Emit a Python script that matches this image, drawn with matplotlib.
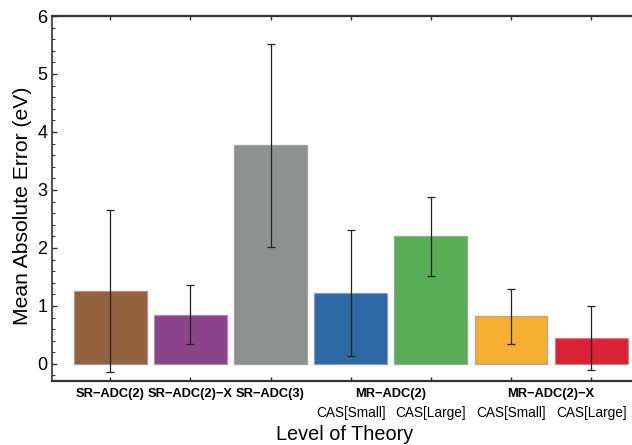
import numpy as np
import matplotlib.pyplot as plt
from matplotlib.ticker import MultipleLocator

# values
methods = ["SR−ADC(2)", "SR−ADC(2)−X", "SR−ADC(3)",
           "MR−ADC(2)", "MR−ADC(2)", "MR−ADC(2)−X", "MR−ADC(2)−X"]
cas_labels = ["", "", "", "CAS[Small]", "CAS[Large]", "CAS[Small]", "CAS[Large]"]
mae = [1.26, 0.845, 3.77, 1.22, 2.20, 0.82, 0.45]
err = [1.40, 0.51, 1.75, 1.09, 0.68, 0.47, 0.55]
colors = ["#93613c", "#8b4489", "#8e918f", "#2c69a5", "#58ad55", "#f6ae33", "#dc2236"]

plt.rcParams['font.family'] = ['Liberation Sans', 'DejaVu Sans']

fig = plt.figure(figsize=(6.32, 4.45), dpi=100)
ax = fig.add_axes([0.0818, 0.1445, 0.9182, 0.8195])

x = np.arange(len(mae))
ax.bar(x, mae, width=0.91, color=colors, edgecolor=(0.55, 0.55, 0.55, 0.6),
       linewidth=1.0)
ax.errorbar(x, mae, yerr=err, fmt='none', ecolor='#222222', elinewidth=0.9,
            capsize=3, capthick=0.9)

ax.set_xlim(-0.73, 6.51)
ax.set_ylim(-0.29, 6)
ax.yaxis.set_major_locator(MultipleLocator(1))
ax.yaxis.set_minor_locator(MultipleLocator(0.2))
ax.set_xticks(x)
ax.set_xticklabels([])

ax.spines['right'].set_visible(False)
for s in ['top', 'bottom']:
    ax.spines[s].set_linewidth(1.6)
    ax.spines[s].set_color('#333333')
ax.spines['left'].set_linewidth(1.2)
ax.spines['left'].set_color('#333333')

ax.tick_params(axis='y', which='major', direction='in', length=3.5, width=1,
               labelsize=13, pad=3, colors='#333333', labelcolor='black')
ax.tick_params(axis='y', which='minor', direction='in', length=2, width=0.8,
               colors='#333333')
ax.tick_params(axis='x', which='major', direction='in', length=3, width=1,
               top=True, colors='#333333')
ax.tick_params(axis='x', which='minor', bottom=False, top=False)

# first row: method names
trans = ('data', 'axes fraction')
row1 = [(x[0], methods[0]), (x[1], methods[1]), (x[2], methods[2]),
        (3.5, methods[3]), (5.5, methods[5])]
for xpos, name in row1:
    ax.annotate(name, xy=(xpos, 0), xycoords=trans, xytext=(0, -9.5),
                textcoords='offset points', ha='center', va='center',
                fontsize=9.3, fontweight='bold')

# second row: active space labels
for i in range(3, 7):
    ax.annotate(cas_labels[i], xy=(x[i], 0), xycoords=trans, xytext=(0, -23),
                textcoords='offset points', ha='center', va='center',
                fontsize=9.8)

ax.annotate("Level of Theory", xy=(0.5, 0), xycoords='axes fraction',
            xytext=(2, -39), textcoords='offset points', ha='center',
            va='center', fontsize=14.3)
ax.set_ylabel("Mean Absolute Error (eV)", fontsize=15.2)
ax.yaxis.set_label_coords(-0.034, 0.48)

fig.savefig("out.png", dpi=100)
